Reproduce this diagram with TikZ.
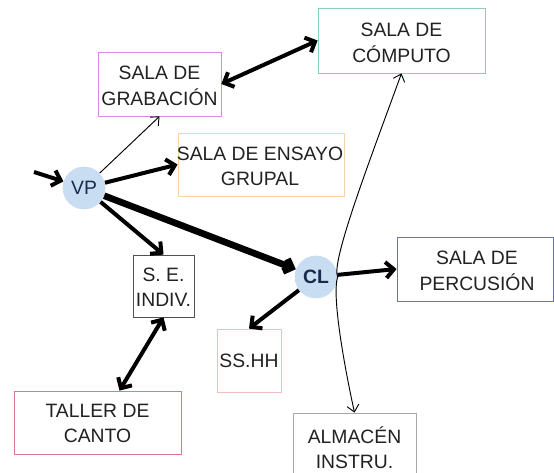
\documentclass[tikz,border=0pt]{standalone}
\usepackage{fontspec}
\setmainfont{Liberation Sans}
\usetikzlibrary{arrows.meta}
\definecolor{compc}{HTML}{8CCFC0}
\definecolor{grabc}{HTML}{D98BE0}
\definecolor{ensc}{HTML}{F5D2A8}
\definecolor{seindc}{HTML}{505050}
\definecolor{percc}{HTML}{6A6AD0}
\definecolor{sshhc}{HTML}{F2BCC4}
\definecolor{tallerc}{HTML}{E0788A}
\definecolor{almc}{HTML}{A8A8A8}
\definecolor{circc}{HTML}{C8DCF2}
\definecolor{txtc}{HTML}{222222}
\definecolor{navy}{HTML}{1A2A4A}
\begin{document}
\begin{tikzpicture}[x=0.75pt,y=-0.75pt,
  roombox/.style={draw, line width=0.6pt, inner sep=0pt, minimum width=#1},
  roomtext/.style={text=txtc, align=center, inner sep=0pt, font=\fontsize{14.5}{19}\selectfont},
  hub/.style={circle, fill=circc, minimum size=32pt, inner sep=0pt, font=\fontsize{14.5}{17}\selectfont, text=navy},
  thickarrow/.style={line width=3pt, -{Straight Barb[length=6pt,width=12pt]}},
  thickboth/.style={line width=3pt, {Straight Barb[length=6pt,width=12pt]}-{Straight Barb[length=6pt,width=12pt]}},
  heavyarrow/.style={line width=5pt, -{Straight Barb[length=5pt,width=10pt]}},
  thinarrow/.style={line width=0.7pt, -{Straight Barb[length=5pt,width=9pt]}}
]
\useasboundingbox (0,0) rectangle (554,473);
\fill[white] (0,0) rectangle (554,473);

% boxes
\node[roombox=125.25pt, minimum height=48.75pt, draw=compc] (comp) at (401.5,40.5) {};
\node[roomtext] (compt) at (401.5,43) {SALA DE\\CÓMPUTO};

\node[roombox=92.25pt, minimum height=48pt, draw=grabc] (grab) at (159.5,84) {};
\node[roomtext] (grabt) at (159.5,86) {SALA DE\\GRABACIÓN};

\node[roombox=124.5pt, minimum height=47.25pt, draw=ensc] (ens) at (261,164.5) {};
\node[roomtext] (enst) at (260,166.5) {SALA DE ENSAYO\\GRUPAL};

\node[roombox=45.75pt, minimum height=46.5pt, draw=seindc] (seind) at (163.5,286) {};
\node[roomtext] (seindt) at (163.5,287) {S. E.\\INDIV.};

\node[roombox=117pt, minimum height=48pt, draw=percc] (perc) at (475,269) {};
\node[roomtext] (perct) at (477,271) {SALA DE\\PERCUSIÓN};

\node[roombox=48pt, minimum height=47.25pt, draw=sshhc] (sshh) at (249,360.5) {};
\node[roomtext] (sshht) at (249,360.5) {SS.HH};

\node[roombox=125.25pt, minimum height=47.25pt, draw=tallerc] (taller) at (97.5,422.5) {};
\node[roomtext] (tallert) at (97.5,423.5) {TALLER DE\\CANTO};

\node[roombox=92.25pt, minimum height=52.5pt, draw=almc] (alm) at (354.5,448) {};
\node[roomtext] (almt) at (354.5,448) {ALMACÉN\\INSTRU.};

% hubs
\node[hub] (vp) at (84,188) {VP};
\node[hub, font=\bfseries\fontsize{14.5}{17}\selectfont] (cl) at (316,277) {CL};

\coordinate (in) at (34,172);

% connectors
\draw[thickarrow] (in) -- (vp);
\draw[thinarrow] (vp) -- (grab.south);
\draw[thickarrow] (vp) -- (ens.west);
\draw[thickboth] (grab.east) -- (comp.west);
\draw[thickarrow] (vp) -- (seind.north);
\draw[heavyarrow] (vp) -- (cl);
\draw[thickarrow] (cl) -- (perc.west);
\draw[thickarrow] (cl) -- (sshh.north);
\draw[thickboth] (seind.south) -- ([xshift=16.5pt]taller.north);
\draw[thinarrow] (cl.east) .. controls (331,262) and (368,165) .. (comp.south);
\draw[thinarrow] (cl.east) .. controls (332,295) and (343,360) .. (alm.north);
\end{tikzpicture}
\end{document}
